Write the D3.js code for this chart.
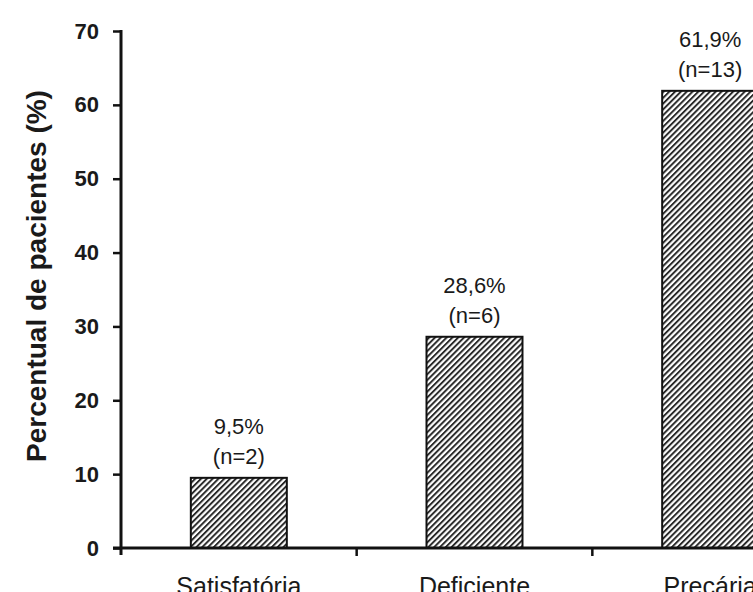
<!DOCTYPE html>
<html>
<head>
<meta charset="utf-8">
<script src="https://cdn.jsdelivr.net/npm/d3@7"></script>
<style>
  html, body { margin: 0; padding: 0; background: #fff; overflow: hidden; }
  svg { display: block; font-family: Arial, "Liberation Sans", sans-serif; }
</style>
</head>
<body>
<svg id="chart" width="753" height="592"></svg>
<script>
const categories = ["Satisfatória", "Deficiente", "Precária"];
const values = [9.5, 28.6, 61.9];
const valueLabels = ["9,5%", "28,6%", "61,9%"];
const countLabels = ["(n=2)", "(n=6)", "(n=13)"];
const yTicks = [0, 10, 20, 30, 40, 50, 60, 70];
const yTitle = "Percentual de pacientes (%)";

const svg = d3.select("#chart");

const x = d3.scaleBand().domain(categories).range([121, 828]).paddingInner(0.5927).paddingOuter(0.5927 / 2);
const y = d3.scaleLinear().domain([0, 70]).range([548, 31]);

// hatch pattern
const defs = svg.append("defs");
const pat = defs.append("pattern")
  .attr("id", "hatch")
  .attr("patternUnits", "userSpaceOnUse")
  .attr("width", 4.1).attr("height", 10)
  .attr("patternTransform", "rotate(45)");
pat.append("rect").attr("width", 4.1).attr("height", 10).attr("fill", "#fff");
pat.append("line").attr("x1", 1).attr("x2", 1).attr("y1", 0).attr("y2", 10)
  .attr("stroke", "#222").attr("stroke-width", 1.9);

// bars
svg.append("g").selectAll("rect").data(categories).join("rect")
  .attr("x", d => x(d))
  .attr("y", (d, i) => y(values[i]))
  .attr("width", x.bandwidth())
  .attr("height", (d, i) => y(0) - y(values[i]))
  .attr("fill", "url(#hatch)")
  .attr("stroke", "#111")
  .attr("stroke-width", 2);

// value labels
const lab = svg.append("g").attr("font-size", 22).attr("fill", "#1a1a1a").attr("text-anchor", "middle");
lab.selectAll("text.v").data(categories).join("text").attr("class", "v")
  .attr("x", d => x(d) + x.bandwidth() / 2)
  .attr("y", (d, i) => y(values[i]) - 44)
  .text((d, i) => valueLabels[i]);
lab.selectAll("text.n").data(categories).join("text").attr("class", "n")
  .attr("x", d => x(d) + x.bandwidth() / 2)
  .attr("y", (d, i) => y(values[i]) - 14)
  .text((d, i) => countLabels[i]);

// y axis
const yAxis = d3.axisLeft(y).tickValues(yTicks).tickSize(8).tickPadding(14).tickFormat(d3.format("d"));
const gy = svg.append("g").attr("transform", "translate(121,0)").call(yAxis);
gy.select(".domain").remove();
gy.selectAll(".tick line").attr("stroke", "#111").attr("stroke-width", 2.5);
gy.selectAll(".tick text").attr("font-size", 22).attr("font-weight", "bold").attr("fill", "#1a1a1a")
  .attr("font-family", "Arial, 'Liberation Sans', sans-serif");
gy.append("line").attr("x1", 0).attr("x2", 0).attr("y1", y(70) - 1).attr("y2", y(0) + 7)
  .attr("stroke", "#111").attr("stroke-width", 3);

// x axis
const gx = svg.append("g").attr("transform", `translate(0,${y(0)})`);
gx.append("line").attr("x1", 113).attr("x2", 753).attr("y1", 0).attr("y2", 0)
  .attr("stroke", "#111").attr("stroke-width", 3);
const step = x.step();
const boundaries = categories.slice(1).map(d => x(d) - (step - x.bandwidth()) / 2);
gx.selectAll("line.tk").data(boundaries).join("line").attr("class", "tk")
  .attr("x1", d => d).attr("x2", d => d).attr("y1", 0).attr("y2", 8)
  .attr("stroke", "#111").attr("stroke-width", 2.5);
gx.selectAll("text").data(categories).join("text")
  .attr("x", d => x(d) + x.bandwidth() / 2)
  .attr("y", 47)
  .attr("text-anchor", "middle")
  .attr("font-size", 25)
  .attr("fill", "#1a1a1a")
  .text(d => d);

// y title
svg.append("text")
  .attr("transform", "translate(46,276) rotate(-90)")
  .attr("text-anchor", "middle")
  .attr("font-size", 28)
  .attr("font-weight", "bold")
  .attr("fill", "#1a1a1a")
  .text(yTitle);
</script>
</body>
</html>
